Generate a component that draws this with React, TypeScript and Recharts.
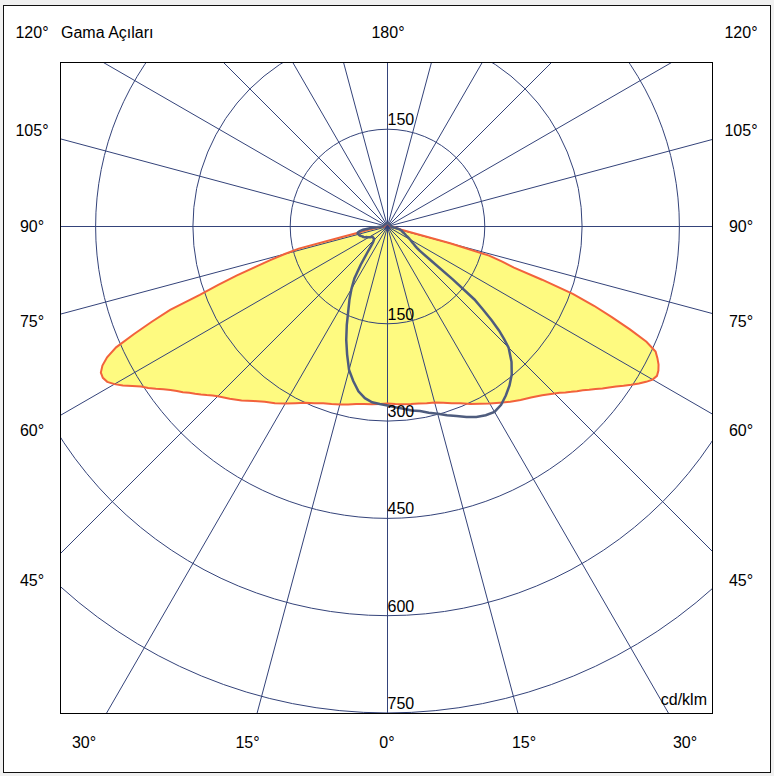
import React from 'react';
import { RadarChart, Radar, PolarGrid, PolarAngleAxis, PolarRadiusAxis } from 'recharts';

// Gamma angles (degrees from nadir) shared by all planes
const gammaAngles = [
  0, 2.5, 5, 7.5, 10, 12.5, 15, 17.5, 20, 22.5, 25, 27.5, 30, 32.5, 35, 37.5, 40, 42.5,
  45, 46, 47, 48, 49, 50, 51, 52, 53, 54, 55, 56, 57, 58, 59, 60, 61, 62,
  63, 64, 65, 66, 67, 68, 69, 70, 71, 72, 73, 74, 75, 76, 77, 78, 79, 80,
  82.5, 85, 87.5, 90, 120, 150, 180,
];

// C0 half-plane (right side, red / yellow)
const planeC0 = [
  273, 274, 275, 276, 277, 279, 281, 285, 290, 295, 302, 308, 315, 322, 330, 337, 344, 353,
  364, 369, 375, 381, 387, 393, 400, 407, 415, 422, 430, 439, 448, 457, 465, 472, 475, 473,
  469, 463, 456, 437, 406, 373, 341, 304, 252, 205, 185, 163, 100, 35, 22, 19, 17, 15,
  12, 10, 7, 5, 4, 4, 4,
];

// C180 half-plane (left side, red / yellow)
const planeC180 = [
  273, 274, 275, 276, 278, 281, 284, 287, 290, 295, 300, 307, 315, 323, 330, 339, 350, 360,
  370, 375, 381, 387, 393, 399, 406, 412, 419, 427, 436, 445, 453, 464, 476, 486, 494, 497,
  496, 489, 477, 458, 425, 392, 359, 308, 276, 244, 212, 188, 164, 141, 75, 48, 40, 33,
  20, 14, 9, 5, 4, 4, 4,
];

// C90 half-plane (right side, blue)
const planeC90 = [
  276, 279, 282, 286, 289, 294, 299, 305, 311, 318, 324, 328, 330, 326, 318, 309, 298, 283,
  264, 250, 235, 216, 195, 175, 130, 85, 62, 56, 52, 49, 46, 44, 42, 40, 38, 36,
  34, 32, 31, 30, 29, 27, 26, 25, 24, 24, 23, 22, 21, 19, 18, 16, 14, 13,
  10, 8, 7, 6, 5, 5, 5,
];

// C270 half-plane (left side, blue)
const planeC270 = [
  276, 274, 272, 267, 258, 244, 229, 207, 186, 164, 143, 127, 111, 95, 72, 52, 40, 33,
  30, 29, 28, 28, 28, 28, 28, 28, 28, 28, 28, 29, 30, 31, 32, 33, 34, 35,
  36, 38, 39, 40, 41, 41, 42, 43, 44, 45, 45, 46, 46, 47, 47, 47, 46, 44,
  38, 25, 14, 8, 5, 5, 5,
];

const radiusTicks = [150, 300, 450, 600, 750];
const upperRadiusTicks = [150];
const gridAngles = [0, 15, 30, 45, 60, 75, 90, 105, 120, 135, 150, 165, 180, 195, 210, 225, 240, 255, 270, 285, 300, 315, 330, 345];

const sideAngleLabels = ['120°', '105°', '90°', '75°', '60°', '45°'];
const bottomAngleLabels = ['30°', '15°', '0°', '15°', '30°'];
const topCenterLabel = '180°';
const titleLabel = 'Gama Açıları';
const unitLabel = 'cd/klm';

// Build table: right half a = gamma (0..180), left half a = 360 - gamma
const tableData: { a: number; red: number; blue: number }[] = [];
gammaAngles.forEach((g, i) => {
  tableData.push({ a: g, red: planeC0[i], blue: planeC90[i] });
});
for (let i = gammaAngles.length - 1; i >= 0; i--) {
  tableData.push({ a: 360 - gammaAngles[i], red: planeC180[i], blue: planeC270[i] });
}

const RMAX = 950;
const OUTER = 616.2;
const FONT = '"Liberation Sans", Arial, sans-serif';
const GRID_COLOR = '#34437a';

const chartProps = {
  width: 774,
  height: 776,
  cx: 387.5,
  cy: 226.5,
  innerRadius: 0,
  outerRadius: OUTER,
  startAngle: -90,
  endAngle: 270,
  data: tableData,
  margin: { top: 0, right: 0, bottom: 0, left: 0 },
};

const RadiusTick = (props: any) => {
  const { x, y, payload } = props;
  return (
    <text x={x} y={y - 4} fontSize={16} fontFamily={FONT} fill="#000" textAnchor="start">
      {payload.value}
    </text>
  );
};

const layer: React.CSSProperties = { position: 'absolute', left: -61, top: -63 };

export default function App() {
  const leftX = 32;
  const rightX = 741;
  const sideY = [38, 136, 232, 327, 436, 586];
  const bottomX = [84, 247.5, 387, 524, 685];
  return (
    <div style={{ position: 'absolute', left: 0, top: 0, width: 774, height: 776, background: '#f0f0f0', overflow: 'hidden' }}>
      <div style={{ position: 'absolute', left: 3, top: 5, width: 768, height: 768, boxSizing: 'border-box', border: '1px solid #111', background: '#fff' }} />
      <div
        style={{
          position: 'absolute',
          left: 60,
          top: 62,
          width: 653,
          height: 652,
          boxSizing: 'border-box',
          border: '1px solid #000',
          background: '#fff',
          overflow: 'hidden',
        }}
      >
        <div style={layer}>
          <RadarChart {...chartProps}>
            <PolarAngleAxis dataKey="a" type="number" domain={[0, 360]} tick={false} axisLine={false} tickLine={false} />
            <PolarRadiusAxis angle={-90} domain={[0, RMAX]} ticks={radiusTicks} axisLine={false} tickLine={false} tick={false} />
            <Radar dataKey="red" stroke="none" fill="#fefa80" fillOpacity={1} isAnimationActive={false} />
          </RadarChart>
        </div>
        <div style={layer}>
          <RadarChart {...chartProps}>
            <PolarGrid gridType="circle" polarAngles={gridAngles} stroke={GRID_COLOR} strokeWidth={1} />
            <PolarAngleAxis dataKey="a" type="number" domain={[0, 360]} tick={false} axisLine={false} tickLine={false} />
            <PolarRadiusAxis angle={-90} domain={[0, RMAX]} ticks={radiusTicks} axisLine={false} tickLine={false} tick={RadiusTick} />
            <PolarRadiusAxis
              radiusAxisId="up"
              angle={90}
              domain={[0, RMAX]}
              ticks={upperRadiusTicks}
              axisLine={false}
              tickLine={false}
              tick={RadiusTick}
            />
            <Radar dataKey="red" stroke="#f2623c" strokeWidth={2} fill="none" fillOpacity={0} isAnimationActive={false} />
            <Radar radiusAxisId="up" dataKey="blue" stroke="#4e5c7e" strokeWidth={2.5} fill="none" fillOpacity={0} isAnimationActive={false} />
          </RadarChart>
        </div>
      </div>
      <svg width={774} height={776} style={{ position: 'absolute', left: 0, top: 0, pointerEvents: 'none' }}>
        <g fontFamily={FONT} fontSize={16} fill="#000">
          {sideAngleLabels.map((t, i) => (
            <text key={'l' + i} x={leftX} y={sideY[i]} textAnchor="middle">{t}</text>
          ))}
          {sideAngleLabels.map((t, i) => (
            <text key={'r' + i} x={rightX} y={sideY[i]} textAnchor="middle">{t}</text>
          ))}
          {bottomAngleLabels.map((t, i) => (
            <text key={'b' + i} x={bottomX[i]} y={748} textAnchor="middle">{t}</text>
          ))}
          <text x={388} y={38} textAnchor="middle">{topCenterLabel}</text>
          <text x={61} y={38} textAnchor="start">{titleLabel}</text>
          <text x={707} y={705} textAnchor="end">{unitLabel}</text>
        </g>
      </svg>
    </div>
  );
}
